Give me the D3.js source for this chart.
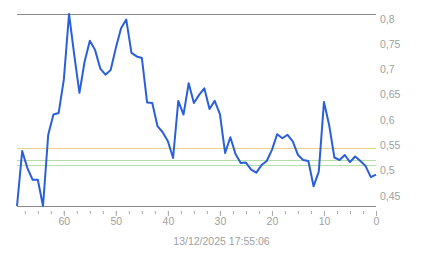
<!DOCTYPE html>
<html>
<head>
<meta charset="utf-8">
<script src="https://cdn.jsdelivr.net/npm/d3@7"></script>
<style>
  body { margin: 0; background: #fff; }
  text { font-family: "Liberation Sans", Arial, sans-serif; }
</style>
</head>
<body>
<div id="chart"></div>
<script>
// minutes ago, from 69 down to 0
const minutesAgo = d3.range(69, -1, -1);
const values = [
    0.420, 0.529, 0.495, 0.472, 0.472, 0.420, 0.561, 0.601, 0.604, 0.670,
    0.800, 0.719, 0.644, 0.706, 0.747, 0.729, 0.692, 0.680, 0.689, 0.733,
    0.772, 0.789, 0.723, 0.716, 0.713, 0.625, 0.624, 0.578, 0.566, 0.548,
    0.515, 0.628, 0.601, 0.663, 0.624, 0.640, 0.653, 0.612, 0.628, 0.602,
    0.525, 0.556, 0.523, 0.505, 0.506, 0.492, 0.486, 0.501, 0.509, 0.531,
    0.562, 0.554, 0.561, 0.548, 0.521, 0.511, 0.509, 0.459, 0.488, 0.626,
    0.580, 0.516, 0.511, 0.521, 0.507, 0.518, 0.509, 0.499, 0.477, 0.482
];
const yTicks = [0.45, 0.5, 0.55, 0.6, 0.65, 0.7, 0.75, 0.8];
const xMajorTicks = [60, 50, 40, 30, 20, 10, 0];
const xMinorTicks = d3.range(0, 69, 2.5);
// reference levels
const levels = [
    { value: 0.534, color: "#e8d48c" },
    { value: 0.512, color: "#b4e0a8" },
    { value: 0.501, color: "#b4e0a8" }
];
const timestamp = "13/12/2025 17:55:06";

const W = 443, H = 258;
const margin = { top: 14, right: 67, bottom: 52, left: 17 },
    width = W - margin.left - margin.right,
    height = H - margin.top - margin.bottom;

const svg = d3.select("#chart")
    .append("svg")
    .attr("width", W)
    .attr("height", H);

const g = svg.append("g")
    .attr("transform", `translate(${margin.left},${margin.top})`);

const x = d3.scaleLinear().domain([69, 0]).range([0, width]);
const y = d3.scaleLinear().domain([0.42, 0.8]).range([height, 0]);

const fmt = d3.formatLocale({ decimal: ",", thousands: ".", grouping: [3], currency: ["", ""] }).format(".2~f");

// reference lines
g.selectAll(".level")
    .data(levels)
    .enter().append("line")
    .attr("x1", 0).attr("x2", width)
    .attr("y1", d => Math.round(y(d.value)) + 0.5)
    .attr("y2", d => Math.round(y(d.value)) + 0.5)
    .attr("stroke", d => d.color)
    .attr("stroke-width", 1);

// top and bottom frame lines
g.append("line")
    .attr("x1", 0).attr("x2", width)
    .attr("y1", 0.5).attr("y2", 0.5)
    .attr("stroke", "#8a8a8a");
g.append("line")
    .attr("x1", 0).attr("x2", width)
    .attr("y1", height + 0.5).attr("y2", height + 0.5)
    .attr("stroke", "#8a8a8a");

// Y axis on the right
const yAxis = g.append("g")
    .attr("transform", `translate(${width + 4},0)`)
    .call(d3.axisRight(y).tickValues(yTicks).tickSize(0).tickPadding(0).tickFormat(fmt));
yAxis.select(".domain").remove();
yAxis.selectAll("text")
    .attr("dy", "0.78em")
    .attr("fill", "#a0a0a0")
    .style("font-size", "10.5px");

// X axis minor ticks
const xMinor = g.append("g")
    .attr("transform", `translate(0,${height + 5})`)
    .call(d3.axisBottom(x).tickValues(xMinorTicks).tickSize(3).tickFormat(""));
xMinor.select(".domain").remove();
xMinor.selectAll("line").attr("stroke", "#aaaaaa");

// X axis major ticks + labels
const xAxis = g.append("g")
    .attr("transform", `translate(0,${height + 5})`)
    .call(d3.axisBottom(x).tickValues(xMajorTicks).tickSize(5).tickPadding(2));
xAxis.select(".domain").remove();
xAxis.selectAll("line").attr("stroke", "#aaaaaa");
xAxis.selectAll("text")
    .attr("fill", "#a0a0a0")
    .style("font-size", "10.5px");

// the series line
g.append("path")
    .datum(values)
    .attr("fill", "none")
    .attr("stroke", "#2a5fdc")
    .attr("stroke-width", 2)
    .attr("stroke-linejoin", "round")
    .attr("d", d3.line()
        .x((d, i) => x(minutesAgo[i]))
        .y(d => y(d)));

// timestamp title
svg.append("text")
    .attr("x", W / 2)
    .attr("y", 245)
    .attr("text-anchor", "middle")
    .attr("fill", "#a0a0a0")
    .style("font-size", "10.5px")
    .text(timestamp);
</script>
</body>
</html>
